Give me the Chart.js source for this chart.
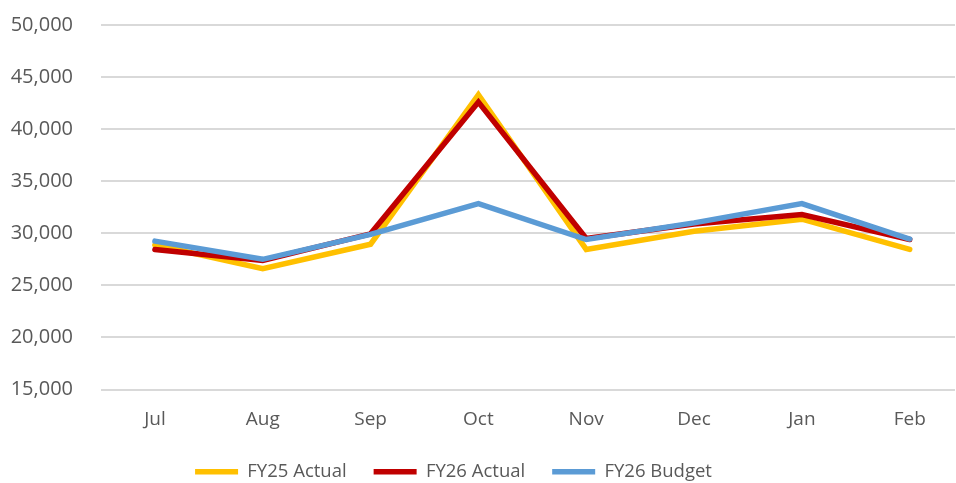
<!DOCTYPE html>
<html>
<head>
<meta charset="utf-8">
<script src="https://cdn.jsdelivr.net/npm/chart.js@4.4.1/dist/chart.umd.min.js"></script>
<style>
    html, body { margin: 0; padding: 0; background: #fff; }
    #wrap { width: 956px; height: 483px; }
</style>
</head>
<body>
<div id="wrap"><canvas id="trend"></canvas></div>
<script>
    // months on the x axis
    var months = ['Jul', 'Aug', 'Sep', 'Oct', 'Nov', 'Dec', 'Jan', 'Feb'];

    // series
    var fy25Actual = [28900, 26600, 28950, 43300, 28450, 30200, 31350, 28450];
    var fy26Actual = [28450, 27400, 29950, 42600, 29500, 30900, 31800, 29400];
    var fy26Budget = [29250, 27500, 29900, 32850, 29400, 31000, 32850, 29450];

    // y axis ticks
    var yTicks = [15000, 20000, 25000, 30000, 35000, 40000, 45000, 50000];

    (function () {
        'use strict';

        var textColor = '#595959';
        var fontFamily = '"Open Sans", sans-serif';

        function toPoints(values) {
            return values.map(function (v, i) {
                return { x: i, y: v };
            });
        }

        function line(label, values, color, order) {
            return {
                label: label,
                data: toPoints(values),
                borderColor: color,
                backgroundColor: color,
                borderWidth: 5.5,
                borderCapStyle: 'round',
                pointRadius: 0,
                pointStyle: 'line',
                tension: 0,
                order: order
            };
        }

        // nudge the legend so it sits like the original (a bit left)
        var legendNudge = {
            id: 'legendNudge',
            afterLayout: function (chart) {
                var lg = chart.legend;
                if (!lg) {
                    return;
                }
                lg.left -= 24;
                lg.right -= 24;
                lg.top += 4;
                lg.bottom += 4;
            }
        };

        var ctx = document.getElementById('trend').getContext('2d');
        new Chart(ctx, {
            type: 'line',
            data: {
                datasets: [
                    line('FY25 Actual', fy25Actual, '#FFC000', 3),
                    line('FY26 Actual', fy26Actual, '#C00000', 2),
                    line('FY26 Budget', fy26Budget, '#5B9BD5', 1)
                ]
            },
            plugins: [legendNudge],
            options: {
                responsive: true,
                maintainAspectRatio: false,
                animation: false,
                layout: { padding: { top: 25, right: 1, bottom: -4, left: 0 } },
                plugins: {
                    tooltip: { enabled: false },
                    legend: {
                        position: 'bottom',
                        labels: {
                            usePointStyle: true,
                            pointStyleWidth: 43,
                            padding: 27,
                            color: textColor,
                            font: { family: fontFamily, size: 18.5 },
                            sort: function (a, b) { return a.datasetIndex - b.datasetIndex; }
                        }
                    }
                },
                scales: {
                    x: {
                        type: 'linear',
                        min: -0.5,
                        max: 7.42,
                        grid: { display: false },
                        border: { display: false },
                        afterBuildTicks: function (scale) {
                            scale.ticks = months.map(function (m, i) { return { value: i }; });
                        },
                        afterFit: function (scale) { scale.height = 42; },
                        ticks: {
                            padding: 11,
                            color: textColor,
                            font: { family: fontFamily, size: 19 },
                            maxRotation: 0,
                            autoSkip: false,
                            callback: function (value) { return months[value]; }
                        }
                    },
                    y: {
                        min: 15000,
                        max: 50000,
                        afterBuildTicks: function (scale) {
                            scale.ticks = yTicks.map(function (v) { return { value: v }; });
                        },
                        afterFit: function (scale) { scale.width = 101; },
                        // invisible tick marks keep the labels away from the grid
                        grid: { color: '#D9D9D9', lineWidth: 2, drawTicks: true, tickLength: 28, tickColor: 'rgba(0,0,0,0)' },
                        border: { display: false },
                        ticks: {
                            padding: 0,
                            color: textColor,
                            font: { family: fontFamily, size: 20 },
                            callback: function (value) { return value.toLocaleString('en-US'); }
                        }
                    }
                }
            }
        });
    })();
</script>
</body>
</html>
